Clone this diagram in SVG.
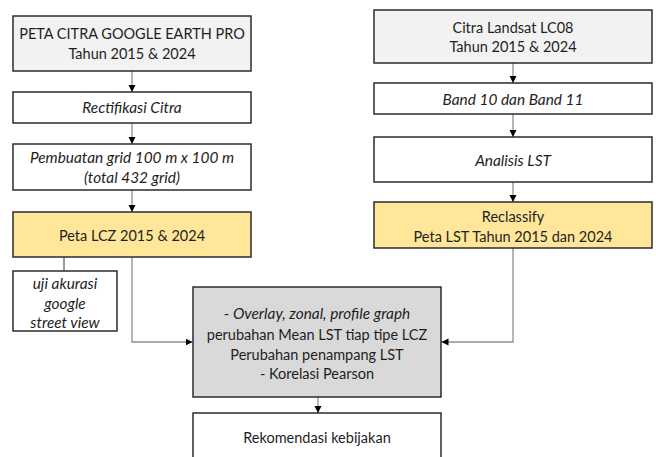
<svg xmlns="http://www.w3.org/2000/svg" width="656" height="457" viewBox="0 0 656 457">
<defs>
<style>
.box{stroke:#2b2b2b;stroke-width:1.5}
.w{fill:#ffffff}
.g{fill:#f2f2f2}
.y{fill:#ffe699}
.d{fill:#d9d9d9}
text{font-family:Lato,"Noto Sans",sans-serif;font-size:14.5px;fill:#1e1e1e;text-anchor:middle;dominant-baseline:central}
.i{font-style:italic;font-size:15.4px}
tspan.i{font-size:15.4px}
.c{fill:none;stroke:#8f8f8f;stroke-width:1.3}
.k{fill:none;stroke:#3a3a3a;stroke-width:1}
</style>
<marker id="ah" markerUnits="userSpaceOnUse" markerWidth="8" markerHeight="8" refX="7" refY="4" orient="auto">
<path d="M0,0.5 L7,4 L0,7.5 Z" fill="#000"/>
</marker>
</defs>
<rect width="656" height="457" fill="#ffffff"/>
<g id="connectors">
<line class="c" x1="132" y1="71" x2="132" y2="92" marker-end="url(#ah)"/>
<line class="c" x1="132" y1="123" x2="132" y2="144" marker-end="url(#ah)"/>
<line class="c" x1="132" y1="190" x2="132" y2="212" marker-end="url(#ah)"/>
<line class="k" x1="64" y1="257" x2="64" y2="271"/>
<path class="c" d="M132,257 V342 H192.5" marker-end="url(#ah)"/>
<line class="c" x1="513" y1="63" x2="513" y2="83" marker-end="url(#ah)"/>
<line class="c" x1="513" y1="114" x2="513" y2="137" marker-end="url(#ah)"/>
<line class="c" x1="513" y1="182" x2="513" y2="202" marker-end="url(#ah)"/>
<path class="c" d="M513,248 V342 H441.5" marker-end="url(#ah)"/>
<line class="c" x1="318" y1="397" x2="318" y2="413" marker-end="url(#ah)"/>
</g>
<g id="n_peta_citra">
<rect class="box g" x="13" y="16" width="238" height="55"/>
<text x="132" y="33">PETA CITRA GOOGLE EARTH PRO</text>
<text x="132" y="53">Tahun 2015 &amp; 2024</text>
</g>
<g id="n_rectifikasi">
<rect class="box w" x="13" y="92" width="238" height="31"/>
<text class="i" x="132" y="107">Rectifikasi Citra</text>
</g>
<g id="n_grid">
<rect class="box w" x="13" y="144" width="238" height="46"/>
<text class="i" x="132" y="157">Pembuatan grid 100 m x 100 m</text>
<text class="i" x="132" y="177">(total 432 grid)</text>
</g>
<g id="n_lcz">
<rect class="box y" x="13" y="212" width="238" height="45"/>
<text x="132" y="235">Peta LCZ 2015 &amp; 2024</text>
</g>
<g id="n_uji">
<rect class="box w" x="13" y="271" width="104" height="60"/>
<text class="i" x="65" y="283">uji akurasi</text>
<text class="i" x="65" y="303">google</text>
<text class="i" x="65" y="322">street view</text>
</g>
<g id="n_landsat">
<rect class="box g" x="374" y="10" width="278" height="53"/>
<text x="513" y="27">Citra Landsat LC08</text>
<text x="513" y="46">Tahun 2015 &amp; 2024</text>
</g>
<g id="n_band">
<rect class="box w" x="374" y="83" width="278" height="31"/>
<text class="i" x="513" y="99">Band 10 dan Band 11</text>
</g>
<g id="n_analisis">
<rect class="box w" x="374" y="137" width="278" height="45"/>
<text class="i" x="513" y="160">Analisis LST</text>
</g>
<g id="n_reclassify">
<rect class="box y" x="374" y="202" width="278" height="46"/>
<text x="513" y="216">Reclassify</text>
<text x="513" y="236">Peta LST Tahun 2015 dan 2024</text>
</g>
<g id="n_overlay">
<rect class="box d" x="193" y="287" width="248" height="110"/>
<text x="317" y="313">- <tspan class="i">Overlay, zonal, profile graph</tspan></text>
<text x="317" y="334">perubahan Mean LST tiap tipe LCZ</text>
<text x="317" y="354">Perubahan penampang LST</text>
<text x="317" y="373">- Korelasi Pearson</text>
</g>
<g id="n_rekomendasi">
<rect class="box w" x="193" y="413" width="248" height="60"/>
<text x="317" y="437">Rekomendasi kebijakan</text>
</g>
</svg>
